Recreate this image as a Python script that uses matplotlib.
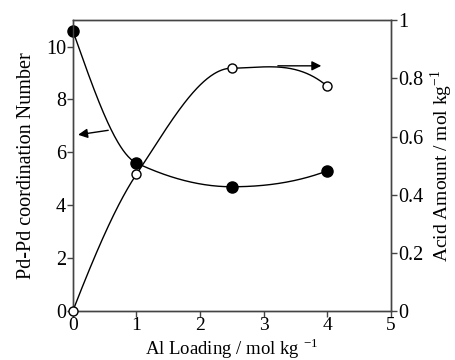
import numpy as np
import matplotlib
matplotlib.use('Agg')
import matplotlib.pyplot as plt

plt.rcParams['font.family'] = ['Liberation Serif', 'DejaVu Serif']
plt.rcParams['mathtext.fontset'] = 'stix'

al_loading = [0, 1, 2.5, 4]
pd_cn = [10.6, 5.6, 4.7, 5.3]
acid_amount = [0.0, 0.47, 0.835, 0.773]


def smooth(x, y, n=300):
    # monotone cubic (pchip) line through the points
    x = np.asarray(x, float)
    y = np.asarray(y, float)
    h = np.diff(x)
    d = np.diff(y) / h
    m = np.zeros_like(y)
    for i in range(1, len(x) - 1):
        if d[i - 1] * d[i] > 0:
            w1 = 2 * h[i] + h[i - 1]
            w2 = h[i] + 2 * h[i - 1]
            m[i] = (w1 + w2) / (w1 / d[i - 1] + w2 / d[i])
    m[0] = ((2 * h[0] + h[1]) * d[0] - h[0] * d[1]) / (h[0] + h[1])
    if np.sign(m[0]) != np.sign(d[0]):
        m[0] = 0
    m[-1] = ((2 * h[-1] + h[-2]) * d[-1] - h[-1] * d[-2]) / (h[-1] + h[-2])
    if np.sign(m[-1]) != np.sign(d[-1]):
        m[-1] = 0
    xs = np.linspace(x[0], x[-1], n)
    i = np.clip(np.searchsorted(x, xs) - 1, 0, len(x) - 2)
    t = (xs - x[i]) / h[i]
    h00 = 2 * t**3 - 3 * t**2 + 1
    h10 = t**3 - 2 * t**2 + t
    h01 = -2 * t**3 + 3 * t**2
    h11 = t**3 - t**2
    ys = h00 * y[i] + h10 * h[i] * m[i] + h01 * y[i + 1] + h11 * h[i] * m[i + 1]
    return xs, ys


fig = plt.figure(figsize=(4.55, 3.6), dpi=100)
ax = fig.add_axes([0.160, 0.136, 0.699, 0.808])
ax2 = ax.twinx()

sx, sy = smooth(al_loading, pd_cn)
ax.plot(sx, sy, color='black', lw=1, clip_on=False)
ax.plot(al_loading, pd_cn, 'o', color='black', ms=8, clip_on=False, zorder=5)

sx, sy = smooth(al_loading, acid_amount)
ax2.plot(sx, sy, color='black', lw=1, clip_on=False)
ax2.plot(al_loading, acid_amount, 'o', mfc='white', mec='black', mew=1, ms=6.5,
         clip_on=False, zorder=5)

ax.set_xlim(0, 5)
ax.set_ylim(0, 11)
ax2.set_ylim(0, 1)
ax.set_xticks([0, 1, 2, 3, 4, 5])
ax.set_yticks([0, 2, 4, 6, 8, 10])
ax2.set_yticks([0, 0.2, 0.4, 0.6, 0.8, 1])
ax2.set_yticklabels(['0', '0.2', '0.4', '0.6', '0.8', '1'])

for a in (ax, ax2):
    for s in a.spines.values():
        s.set_color('#444444')
        s.set_linewidth(1)
    a.tick_params(direction='out', length=4, width=1, color='#444444',
                  labelsize=14.5, pad=1)
ax.tick_params(top=False)
ax.tick_params(axis='x', pad=0, labelsize=14)

ax.set_xlabel('Al Loading / mol kg $^{\\mathdefault{-1}}$', fontsize=13.5)
ax.xaxis.set_label_coords(0.5, -0.087)
ax.set_ylabel('Pd-Pd coordination Number', fontsize=14.5, labelpad=7)
ax2.set_ylabel('Acid Amount / mol kg$^{\\mathdefault{-1}}$', fontsize=14, labelpad=4)

ax.annotate('', xy=(0.04, 6.65), xytext=(0.6, 6.85),
            arrowprops=dict(arrowstyle='-|>', color='black', lw=1,
                            mutation_scale=14))
ax2.annotate('', xy=(3.95, 0.843), xytext=(3.18, 0.843),
             arrowprops=dict(arrowstyle='-|>', color='black', lw=1,
                             mutation_scale=14))

fig.savefig('out.png', dpi=100)
